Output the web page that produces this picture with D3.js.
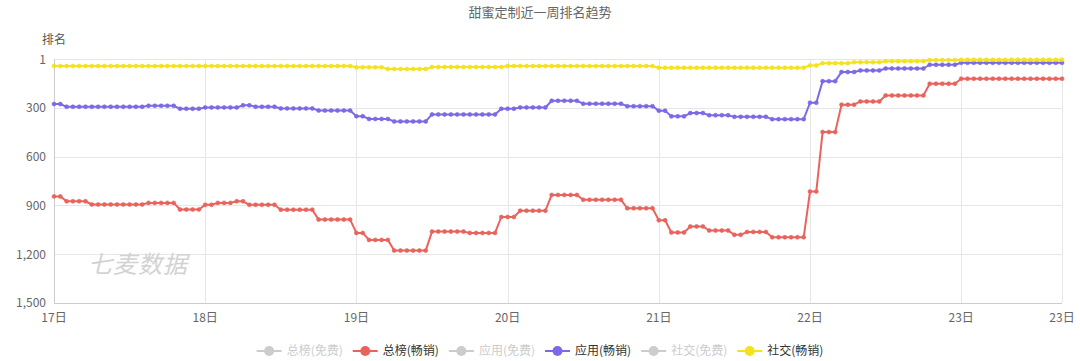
<!DOCTYPE html>
<html><head><meta charset="utf-8">
<script src="https://cdn.jsdelivr.net/npm/d3@7/dist/d3.min.js"></script>
<style>
body{margin:0;background:#fff}
text{font-family:"Noto Sans CJK SC","Noto Sans",sans-serif}
</style>
</head><body>
<svg id="c" width="1080" height="361"></svg>
<script>
const chartTitle = "甜蜜定制近一周排名趋势";
const yAxisName = "排名";
const watermark = "七麦数据";
const xTickLabels = ["17日","18日","19日","20日","21日","22日","23日","23日"];
const xTickIndex = [0,24,48,72,96,120,144,160];
const yTicks = [1,300,600,900,1200,1500];
const legendNames = ["总榜(免费)","总榜(畅销)","应用(免费)","应用(畅销)","社交(免费)","社交(畅销)"];
const legendActive = [false,true,false,true,false,true];
const legendColors = ["#ccc","#e9635d","#ccc","#7b6ae6","#ccc","#f4e31c"];

// hourly ranks, 17日 00:00 .. 23日 16:00
const totalPaid = [
845,845,875,875,875,875,895,895,895,895,895,895,895,895,895,885,885,885,885,885,926,926,926,926,
897,897,885,885,885,875,875,897,897,897,897,897,927,927,927,927,927,927,988,988,988,988,988,988,
1070,1070,1113,1113,1113,1113,1179,1179,1179,1179,1179,1179,1062,1062,1062,1062,1062,1062,1070,1070,1070,1070,1070,972,
972,972,933,933,933,933,933,836,836,836,836,836,866,866,866,866,866,866,866,918,918,918,918,918,
992,992,1067,1067,1067,1030,1030,1030,1055,1055,1055,1055,1082,1082,1064,1064,1064,1064,1097,1097,1097,1097,1097,1097,
815,815,449,449,449,280,280,280,260,260,260,260,223,223,223,223,223,223,223,151,151,151,151,151,
120,120,120,120,120,120,120,120,120,120,120,120,120,120,120,120,120
];
const appPaid = [
276,276,293,293,293,293,293,293,293,293,293,293,293,293,293,287,287,287,287,287,305,305,305,305,
297,297,297,297,297,297,284,284,293,293,293,293,303,303,303,303,303,303,316,316,316,316,316,316,
351,351,368,368,368,368,383,383,383,383,383,383,340,340,340,340,340,340,340,340,340,340,340,305,
305,305,297,297,297,297,297,256,256,256,256,256,274,274,274,274,274,274,274,289,289,289,289,289,
317,317,352,352,352,332,332,332,345,345,345,345,355,355,355,355,355,355,369,369,369,369,369,369,
268,268,135,135,135,79,79,79,69,69,69,69,57,57,57,57,57,57,57,34,34,34,34,34,
22,22,22,22,22,22,22,22,22,22,22,22,22,22,22,22,22
];
const socialPaid = [
42,42,42,42,42,42,42,42,42,42,42,42,42,42,42,42,42,42,42,42,42,42,42,42,
42,42,42,42,42,42,42,42,42,42,42,42,42,42,42,42,42,42,42,42,42,42,42,42,
50,50,50,50,50,60,60,60,60,60,60,60,48,48,48,48,48,48,48,48,48,48,48,48,
42,42,42,42,42,42,42,42,42,42,42,42,42,42,42,42,42,42,42,42,42,42,42,42,
52,52,52,52,52,52,52,52,52,52,52,52,52,52,52,52,52,52,52,52,52,52,52,52,
38,38,24,24,24,24,24,18,18,18,18,18,12,12,12,12,12,12,12,5,5,5,5,5,
3,3,3,3,3,3,3,3,3,3,3,3,3,3,3,3,3
];
const seriesList = [
  {data: totalPaid, color: "#e9635d"},
  {data: appPaid, color: "#7b6ae6"},
  {data: socialPaid, color: "#f4e31c"}
];

const svg = d3.select("#c");
const x = d3.scaleLinear().domain([0, totalPaid.length - 1]).range([54, 1062]);
const y = d3.scaleLinear().domain([1, 1500]).range([59.4, 302.7]);

// title
svg.append("text").attr("x", 540).attr("y", 17).attr("text-anchor", "middle")
  .attr("font-size", 13).attr("fill", "#666").text(chartTitle);
// y axis name
svg.append("text").attr("x", 54).attr("y", 43.5).attr("text-anchor", "middle")
  .attr("font-size", 12).attr("fill", "#555").text(yAxisName);

// grid
svg.append("g").selectAll("line").data(yTicks.slice(0, -1)).join("line")
  .attr("x1", x.range()[0]).attr("x2", x.range()[1])
  .attr("y1", d => Math.round(y(d)) + 0.5).attr("y2", d => Math.round(y(d)) + 0.5)
  .attr("stroke", "#e6e6e6");
svg.append("g").selectAll("line").data(xTickIndex.slice(1)).join("line")
  .attr("x1", d => Math.round(x(d)) + 0.5).attr("x2", d => Math.round(x(d)) + 0.5)
  .attr("y1", y.range()[0]).attr("y2", y.range()[1])
  .attr("stroke", "#e6e6e6");

// watermark
svg.append("text").attr("x", 88).attr("y", 273).attr("font-size", 24)
  .attr("font-style", "italic").attr("fill", "#d2d2d2").attr("letter-spacing", 1).text(watermark);

// axes lines
svg.append("line").attr("x1", Math.round(x(0)) + 0.5).attr("x2", Math.round(x(0)) + 0.5)
  .attr("y1", y.range()[0]).attr("y2", y.range()[1]).attr("stroke", "#ccc");
svg.append("line").attr("x1", x.range()[0]).attr("x2", x.range()[1])
  .attr("y1", Math.round(y(1500)) + 0.5).attr("y2", Math.round(y(1500)) + 0.5).attr("stroke", "#ccc");

// y labels
const fmt = d3.format(",");
svg.append("g").selectAll("text").data(yTicks).join("text")
  .attr("x", x(0) - 8).attr("y", d => y(d) + 4.5).attr("text-anchor", "end")
  .attr("font-size", 12).attr("fill", "#666").text(d => fmt(d));
// x labels
svg.append("g").selectAll("text").data(xTickIndex).join("text")
  .attr("x", d => x(d)).attr("y", 322).attr("text-anchor", "middle")
  .attr("font-size", 12).attr("fill", "#666").text((d, i) => xTickLabels[i]);

// series
const line = d3.line().x((d, i) => x(i)).y(d => y(d));
seriesList.forEach(s => {
  const g = svg.append("g");
  g.append("path").datum(s.data).attr("d", line).attr("fill", "none")
    .attr("stroke", s.color).attr("stroke-width", 2).attr("stroke-linejoin", "round");
  g.selectAll("circle").data(s.data).join("circle")
    .attr("cx", (d, i) => x(i)).attr("cy", d => y(d)).attr("r", 2)
    .attr("fill", s.color).attr("stroke", s.color).attr("stroke-width", 0.6);
});

// legend
const lg = svg.append("g");
const items = legendNames.map((n, i) => {
  const t = lg.append("text").attr("font-size", 12).attr("y", 355)
    .attr("fill", legendActive[i] ? "#333" : "#ccc").text(n);
  return {t, w: t.node().getComputedTextLength(), i};
});
const total = d3.sum(items, d => 25 + 5 + d.w) + 10 * (items.length - 1);
let cx = 540 - total / 2;
items.forEach(it => {
  const c = legendColors[it.i];
  lg.append("line").attr("x1", cx).attr("x2", cx + 25).attr("y1", 351).attr("y2", 351)
    .attr("stroke", c).attr("stroke-width", 2);
  lg.append("circle").attr("cx", cx + 12.5).attr("cy", 351).attr("r", 5).attr("fill", c);
  it.t.attr("x", cx + 30);
  cx += 25 + 5 + it.w + 10;
});
</script>
</body></html>
